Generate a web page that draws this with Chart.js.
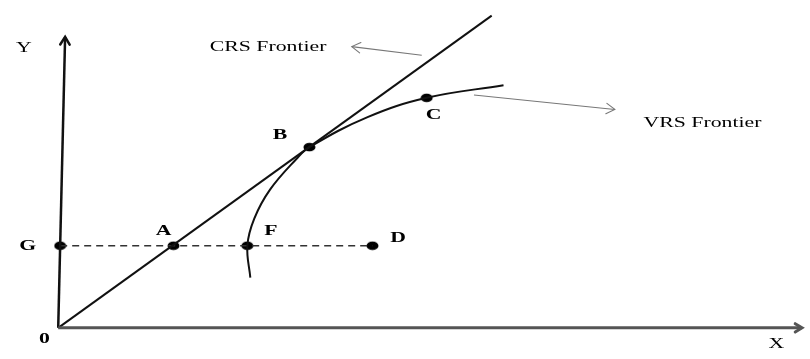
<!DOCTYPE html>
<html><head><meta charset="utf-8">
<script src="https://cdn.jsdelivr.net/npm/chart.js@4"></script>
<style>html,body{margin:0;padding:0;background:#fff}#wrap{width:810px;height:359px}</style>
</head><body><div id="wrap"><canvas id="c" width="810" height="359"></canvas></div>
<script>
// Diagram data (units: input/output space, origin at 0)
const yAxisPts = [[0,0],[7,301]];
const xAxisPts = [[0,0],[755,0]];
const crsFrontier = [[0,0],[440,323]];
const vrsFrontier = [[195,52],[192,85],[199,113],[215,143],[242,175],[255,187],[314,218],[374,238],[452,251]];
const dashedPath = [[2,85],[319,85]];
const pointNames = ['G','A','F','D','B','C'];
const pointX = [2,117,192,319,255,374];
const pointY = [85,85,85,85,187,238];
const crsArrow = [[369,282],[298,291]];
const vrsArrow = [[422,241],[565,226]];
const labelTexts = ['Y','CRS Frontier','VRS Frontier','B','C','A','F','D','G','0','X'];
const labelX = [-35,213,654,225,381,107,216,345,-31,-14,729];
const labelY = [290,291,212,199,220,100,100,93,85,-12,-17];
const labelBold = [false,false,false,true,true,true,true,true,true,true,false];

const toXY = a => a.map(p => ({x:p[0], y:p[1]}));

// elliptical dot marker
const dot = document.createElement('canvas');
dot.width = 13; dot.height = 10;
{ const g = dot.getContext('2d'); g.fillStyle = '#000'; g.beginPath(); g.ellipse(6.5,5,6,4.3,0,0,Math.PI*2); g.fill(); }

const arrowPlugin = {
  id: 'arrows',
  afterDatasetsDraw(chart) {
    const ctx = chart.ctx, xs = chart.scales.x, ys = chart.scales.y;
    chart.data.datasets.forEach(ds => {
      if (!ds.arrowHead) return;
      const d = ds.data, n = d.length;
      const x1 = xs.getPixelForValue(d[n-2].x), y1 = ys.getPixelForValue(d[n-2].y);
      const x2 = xs.getPixelForValue(d[n-1].x), y2 = ys.getPixelForValue(d[n-1].y);
      const ang = Math.atan2(y2-y1, x2-x1), L = ds.arrowHead, sp = 0.55;
      ctx.save();
      ctx.strokeStyle = ds.borderColor; ctx.lineWidth = ds.borderWidth; ctx.lineCap='round'; ctx.lineJoin='miter';
      ctx.beginPath();
      ctx.moveTo(x2 - L*Math.cos(ang-sp), y2 - L*Math.sin(ang-sp));
      ctx.lineTo(x2, y2);
      ctx.lineTo(x2 - L*Math.cos(ang+sp), y2 - L*Math.sin(ang+sp));
      ctx.stroke();
      ctx.restore();
    });
  }
};

const labelPlugin = {
  id: 'labels',
  afterDatasetsDraw(chart) {
    const ctx = chart.ctx, xs = chart.scales.x, ys = chart.scales.y;
    labelTexts.forEach((t, i) => {
      ctx.save();
      ctx.translate(xs.getPixelForValue(labelX[i]), ys.getPixelForValue(labelY[i]));
      ctx.scale(1.45, 1);
      ctx.font = (labelBold[i] ? 'bold 15px' : '15px') + ' "Liberation Serif", serif';
      ctx.fillStyle = '#000';
      ctx.textAlign = 'center'; ctx.textBaseline = 'middle';
      ctx.fillText(t, 0, 0);
      ctx.restore();
    });
  }
};

new Chart(document.getElementById('c'), {
  type: 'scatter',
  data: {
    datasets: [
      { data: toXY(xAxisPts), showLine: true, borderColor: '#555', borderWidth: 3, pointRadius: 0, arrowHead: 8 },
      { data: toXY(yAxisPts), showLine: true, borderColor: '#111', borderWidth: 2.5, pointRadius: 0, arrowHead: 9 },
      { data: toXY(crsFrontier), showLine: true, borderColor: '#111', borderWidth: 2, pointRadius: 0 },
      { data: toXY(vrsFrontier), showLine: true, borderColor: '#111', borderWidth: 2, pointRadius: 0, tension: 0.4 },
      { data: toXY(dashedPath), showLine: true, borderColor: '#333', borderWidth: 1.6, borderDash: [7,5], pointRadius: 0 },
      { data: toXY(crsArrow), showLine: true, borderColor: '#777', borderWidth: 1.1, pointRadius: 0, arrowHead: 10 },
      { data: toXY(vrsArrow), showLine: true, borderColor: '#777', borderWidth: 1.1, pointRadius: 0, arrowHead: 10 },
      { data: pointX.map((x,i) => ({x, y: pointY[i]})), showLine: false, pointStyle: dot, pointRadius: 5, label: 'points' }
    ]
  },
  options: {
    responsive: false, animation: false, events: [],
    layout: { padding: 0 },
    plugins: { legend: { display: false }, tooltip: { enabled: false } },
    scales: {
      x: { type: 'linear', display: false, min: -53, max: 757 },
      y: { type: 'linear', display: false, min: -26, max: 333 }
    }
  },
  plugins: [arrowPlugin, labelPlugin]
});
</script>
</body></html>
